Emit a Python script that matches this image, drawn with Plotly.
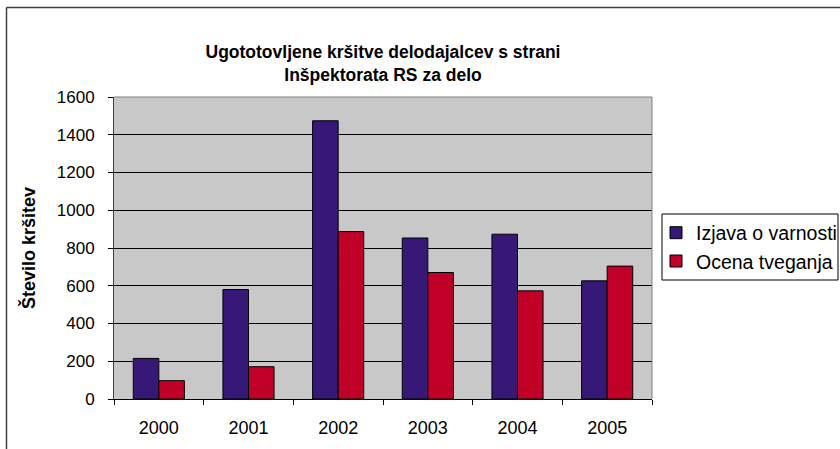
import plotly.graph_objects as go

years = ["2000", "2001", "2002", "2003", "2004", "2005"]
izjava = [215, 580, 1474, 853, 873, 626]
ocena = [97, 171, 887, 670, 573, 704]
series_names = ["Izjava o varnosti", "Ocena tveganja"]
title_text = "Ugototovljene kršitve delodajalcev s strani<br>Inšpektorata RS za delo"
y_title = "Število kršitev"

W, H = 840, 449
L, R, T, B = 114, 188, 97, 50
FONT = "Liberation Sans, Arial, sans-serif"

fig = go.Figure()
fig.add_trace(go.Bar(x=years, y=izjava, name=series_names[0],
                     marker=dict(color="#371877", line=dict(color="#000000", width=1))))
fig.add_trace(go.Bar(x=years, y=ocena, name=series_names[1],
                     marker=dict(color="#C00027", line=dict(color="#000000", width=1))))

pw = W - L - R
ph = H - T - B
def px(x):
    return (x - L) / pw
def py(y):
    return (H - B - y) / ph

fig.update_layout(
    width=W, height=H,
    margin=dict(l=L, r=R, t=T, b=B, pad=0, autoexpand=False),
    paper_bgcolor="white",
    plot_bgcolor="#C8C8C8",
    barmode="group",
    bargap=0.43,
    bargroupgap=0,
    font=dict(family=FONT, size=17, color="#000000"),
    title=dict(text="<b>" + title_text + "</b>", xref="container", x=383 / W, xanchor="center",
               yref="container", y=1 - 58 / H, yanchor="middle", font=dict(size=17.5, family=FONT)),
    xaxis=dict(type="category", showgrid=False, ticks="outside", ticklen=5,
               tickcolor="#000000", tickson="boundaries", showline=True,
               linecolor="#000000", linewidth=1, mirror=False,
               tickfont=dict(size=18), ticklabelstandoff=12),
    yaxis=dict(range=[0, 1600], dtick=200, showgrid=True, gridcolor="#000000",
               gridwidth=1, ticks="outside", ticklen=5, tickcolor="#000000",
               showline=True, linecolor="#404040", linewidth=1, zeroline=False,
               tickfont=dict(size=17), ticklabelstandoff=10,
               title=dict(text="<b>" + y_title + "</b>", font=dict(size=18), standoff=16)),
    legend=dict(x=px(656), y=py(247), xanchor="left", yanchor="middle",
                borderwidth=0, bgcolor="rgba(0,0,0,0)",
                font=dict(size=19.5), itemwidth=30),
    showlegend=True,
    shapes=[
        # plot area top and right border (grey)
        dict(type="line", xref="paper", yref="paper", x0=0, x1=1, y0=1, y1=1,
             line=dict(color="#808080", width=1)),
        dict(type="line", xref="paper", yref="paper", x0=1, x1=1, y0=0, y1=1,
             line=dict(color="#808080", width=1)),
        # legend box
        dict(type="rect", xref="paper", yref="paper", x0=px(662), x1=px(838), y0=py(280), y1=py(214),
             line=dict(color="#000000", width=1), fillcolor="white", layer="above"),
        # chart outer border
        dict(type="line", xref="paper", yref="paper", x0=px(6.5), x1=px(840), y0=py(7.5), y1=py(7.5),
             line=dict(color="#404040", width=1.5)),
        dict(type="line", xref="paper", yref="paper", x0=px(6.5), x1=px(6.5), y0=py(7.5), y1=py(449),
             line=dict(color="#404040", width=1.5)),
    ],
)

fig.write_html("out.html",
               config={"displayModeBar": False},
               post_script="document.body.style.margin='0';document.body.style.overflow='hidden';")
